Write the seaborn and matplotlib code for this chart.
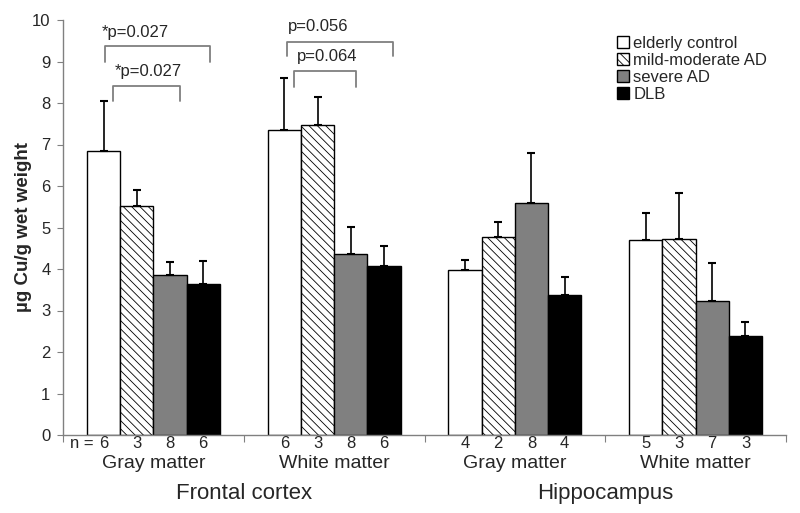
import numpy as np
import pandas as pd
import matplotlib
matplotlib.use("Agg")
import matplotlib.pyplot as plt
import seaborn as sns

# ---- data ----
conditions = ["elderly control", "mild-moderate AD", "severe AD", "DLB"]
groups = ["FC-GM", "FC-WM", "HC-GM", "HC-WM"]
group_labels = ["Gray matter", "White matter", "Gray matter", "White matter"]
regions = ["Frontal cortex", "Hippocampus"]

control = [6.85, 7.35, 3.97, 4.70]
mild = [5.52, 7.48, 4.76, 4.73]
severe = [3.86, 4.37, 5.60, 3.23]
dlb = [3.64, 4.08, 3.38, 2.38]

control_se = [1.20, 1.25, 0.25, 0.65]
mild_se = [0.39, 0.67, 0.38, 1.09]
severe_se = [0.30, 0.65, 1.20, 0.91]
dlb_se = [0.56, 0.48, 0.42, 0.34]

n_control = [6, 6, 4, 5]
n_mild = [3, 3, 2, 3]
n_severe = [8, 8, 8, 7]
n_dlb = [6, 6, 4, 3]

# brackets: group, from bar, to bar, bar height, left/right leg ends, label, label height
brackets = [
    (0, 0, 3, 9.38, 9.00, 9.00, "*p=0.027", 9.69),
    (0, 0, 2, 8.41, 8.05, 8.05, "*p=0.027", 8.75),
    (1, 0, 3, 9.48, 9.13, 9.13, "p=0.056", 9.84),
    (1, 0, 2, 8.77, 8.39, 8.39, "p=0.064", 9.12),
]
bracket_shift = [(0.008, 0.040, -0.010), (0.055, 0.055, 0.063),
                 (0.015, 0.050, 0.021), (0.055, 0.028, 0.070)]

means = [control, mild, severe, dlb]
ses = [control_se, mild_se, severe_se, dlb_se]
counts = [n_control, n_mild, n_severe, n_dlb]

df = pd.DataFrame({
    "group": np.repeat([groups], len(conditions), axis=0).ravel(),
    "condition": np.repeat(conditions, len(groups)),
    "value": np.concatenate(means),
})

sns.set_style("white")
plt.rcParams["font.family"] = ["Liberation Sans", "DejaVu Sans"]
plt.rcParams["hatch.linewidth"] = 0.6

fig = plt.figure(figsize=(8, 5.13), dpi=100)
ax = fig.add_axes([63 / 800, 1 - 435 / 513, 723 / 800, 415 / 513])

palette = {"elderly control": "white", "mild-moderate AD": "white",
           "severe AD": "#808080", "DLB": "black"}
sns.barplot(data=df, x="group", y="value", hue="condition", order=groups,
            hue_order=conditions, palette=palette, saturation=1, width=0.735,
            edgecolor="black", linewidth=1.0, legend=False, ax=ax)
bars = list(ax.containers)

for p in bars[1].patches:
    p.set_hatch("\\\\\\\\")

# one-sided error bars
centers = []
for cont, m, s in zip(bars, means, ses):
    xs = [p.get_x() + p.get_width() / 2 for p in cont.patches]
    centers.append(xs)
    ax.errorbar(xs, m, yerr=[np.zeros(len(s)), s], fmt="none", ecolor="black",
                elinewidth=1.2, capsize=3, capthick=1.5, zorder=1)

ax.set_ylim(0, 10)
ax.set_xlim(-0.5, 3.5)
ax.set_yticks(range(0, 11))
ax.set_xticks(np.arange(-0.5, 4, 1))
ax.set_xticklabels([])
ax.set_xlabel("")
ax.set_ylabel("µg Cu/g wet weight", fontsize=13.5, fontweight="bold")
ax.yaxis.set_label_coords(-0.043, 0.5)
ax.tick_params(axis="y", direction="out", length=4, color="#808080",
               labelsize=12, pad=5, left=True)
ax.tick_params(axis="x", direction="out", length=5, color="#808080", bottom=True)
sns.despine(ax=ax)
for sp in ["left", "bottom"]:
    ax.spines[sp].set_color("#808080")
    ax.spines[sp].set_linewidth(1.0)

# n labels, group labels, region labels
tr = ax.get_xaxis_transform()
for hi, cnt in enumerate(counts):
    for gi, n in enumerate(cnt):
        ax.text(centers[hi][gi], -0.0193, str(n), transform=tr, ha="center",
                va="center", fontsize=12)
ax.text(-0.395, -0.0193, "n =", transform=tr, ha="center", va="center", fontsize=12)
for gi, lab in enumerate(group_labels):
    ax.text(gi, -0.0675, lab, transform=tr, ha="center", va="center", fontsize=14)
for ri, lab in enumerate(regions):
    ax.text(ri * 2 + 0.5, -0.14, lab, transform=tr, ha="center", va="center",
            fontsize=16)

# significance brackets
for (g, a, b, top, yl, yr, lab, ty), (da, db, dt) in zip(brackets, bracket_shift):
    xa = centers[a][g] + da
    xb = centers[b][g] + db
    ax.plot([xa, xa, xb, xb], [yl, top, top, yr], color="#7f7f7f", lw=1.3,
            clip_on=False)
    ax.text(centers[a][g] + dt, ty, lab, ha="left", va="center", fontsize=12)

ax.legend(handles=[c.patches[0] for c in bars], labels=conditions,
          loc="upper left", bbox_to_anchor=(0.766, 0.962), frameon=False,
          fontsize=12, handlelength=0.75, handleheight=0.75, handletextpad=0.25,
          labelspacing=0.12, borderpad=0, borderaxespad=0)

fig.savefig("out.png", dpi=100)
